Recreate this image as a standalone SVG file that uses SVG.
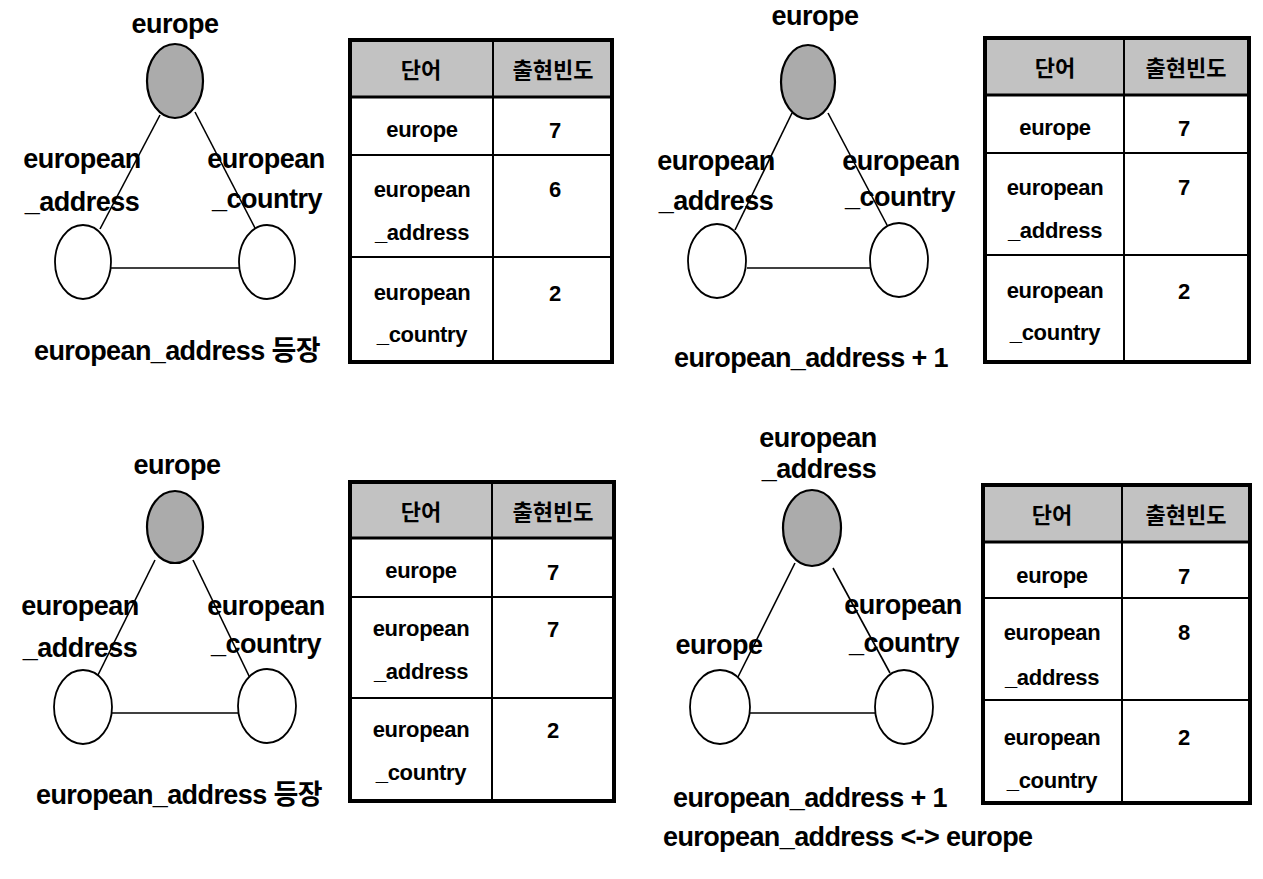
<svg xmlns="http://www.w3.org/2000/svg" width="1263" height="879" viewBox="0 0 1263 879">
<style>
text{font-family:"Liberation Sans","Noto Sans CJK KR",Arial,sans-serif;font-weight:bold;fill:#000;text-anchor:middle}
.lbl{font-size:27px;letter-spacing:-0.5px}
.cap{font-size:27px;letter-spacing:-0.6px}
.cell{font-size:22px;letter-spacing:-0.3px}
.num{font-size:22px}
.hdr{font-size:22px;font-family:"Noto Sans CJK KR",sans-serif}
.top{fill:#ababab;stroke:#000;stroke-width:2.2}
.node{fill:#fff;stroke:#000;stroke-width:1.8}
.edge{stroke:#000;stroke-width:1.6;fill:none}
.tb{fill:#fff;stroke:#000;stroke-width:4}
.hd{fill:#c2c2c2;stroke:none}
.gl{stroke:#000;stroke-width:2}
.gh{stroke:#000;stroke-width:3}
</style>
<rect width="1263" height="879" fill="#fff"/>

<g id="connectors">
<line class="edge" x1="160" y1="115" x2="100" y2="229"/>
<line class="edge" x1="195" y1="112" x2="255" y2="228"/>
<line class="edge" x1="111" y1="268" x2="239" y2="268"/>
<line class="edge" x1="792" y1="113" x2="735" y2="230"/>
<line class="edge" x1="828" y1="113" x2="887" y2="225"/>
<line class="edge" x1="747" y1="268" x2="871" y2="268"/>
<line class="edge" x1="155" y1="560" x2="97" y2="677"/>
<line class="edge" x1="193" y1="560" x2="250" y2="678"/>
<line class="edge" x1="111" y1="713" x2="239" y2="713"/>
<line class="edge" x1="795" y1="563" x2="738" y2="677"/>
<line class="edge" x1="833" y1="568" x2="890" y2="673"/>
<line class="edge" x1="750" y1="713" x2="876" y2="713"/>
</g>

<!-- Panel 1 top-left -->
<g id="p1-top"><ellipse class="top" cx="175" cy="81" rx="28" ry="37"/><text class="lbl" x="175" y="33">europe</text></g>
<g id="p1-left"><ellipse class="node" cx="83" cy="262" rx="28" ry="37"/></g>
<g id="p1-right"><ellipse class="node" cx="267" cy="262" rx="28" ry="37"/></g>
<g id="p1-labels">
<text class="lbl" x="82" y="168">european</text>
<text class="lbl" x="82" y="211">_address</text>
<text class="lbl" x="266" y="168">european</text>
<text class="lbl" x="267" y="208">_country</text>
<text class="cap" x="177" y="360">european_address 등장</text>
</g>
<g id="t1">
<rect class="tb" x="350" y="40" width="262" height="322"/>
<rect class="hd" x="352" y="42" width="258" height="55"/>
<line class="gh" x1="350" y1="97" x2="612" y2="97"/>
<line class="gl" x1="350" y1="155" x2="612" y2="155"/>
<line class="gl" x1="350" y1="257" x2="612" y2="257"/>
<line class="gl" x1="493" y1="40" x2="493" y2="362"/>
<text class="hdr" x="421" y="78">단어</text>
<text class="hdr" x="553" y="78">출현빈도</text>
<text class="cell" x="422" y="137">europe</text>
<text class="cell" x="422" y="197">european</text>
<text class="cell" x="422" y="240">_address</text>
<text class="cell" x="422" y="300">european</text>
<text class="cell" x="422" y="342">_country</text>
<text class="num" x="555" y="138">7</text>
<text class="num" x="555" y="197">6</text>
<text class="num" x="555" y="301">2</text>
</g>

<!-- Panel 2 top-right -->
<g id="p2-top"><ellipse class="top" cx="808" cy="82" rx="27" ry="37"/><text class="lbl" x="815" y="25">europe</text></g>
<g id="p2-left"><ellipse class="node" cx="717" cy="261" rx="29" ry="37"/></g>
<g id="p2-right"><ellipse class="node" cx="899" cy="260" rx="29" ry="37"/></g>
<g id="p2-labels">
<text class="lbl" x="716" y="170">european</text>
<text class="lbl" x="716" y="210">_address</text>
<text class="lbl" x="901" y="170">european</text>
<text class="lbl" x="900" y="206">_country</text>
<text class="cap" x="811" y="367">european_address + 1</text>
</g>
<g id="t2">
<rect class="tb" x="985" y="38" width="264" height="324"/>
<rect class="hd" x="987" y="40" width="260" height="55"/>
<line class="gh" x1="985" y1="95" x2="1249" y2="95"/>
<line class="gl" x1="985" y1="153" x2="1249" y2="153"/>
<line class="gl" x1="985" y1="255" x2="1249" y2="255"/>
<line class="gl" x1="1124" y1="38" x2="1124" y2="362"/>
<text class="hdr" x="1055" y="76">단어</text>
<text class="hdr" x="1186" y="76">출현빈도</text>
<text class="cell" x="1055" y="135">europe</text>
<text class="cell" x="1055" y="195">european</text>
<text class="cell" x="1055" y="238">_address</text>
<text class="cell" x="1055" y="298">european</text>
<text class="cell" x="1055" y="340">_country</text>
<text class="num" x="1184" y="136">7</text>
<text class="num" x="1184" y="195">7</text>
<text class="num" x="1184" y="299">2</text>
</g>

<!-- Panel 3 bottom-left -->
<g id="p3-top"><ellipse class="top" cx="175" cy="527" rx="28" ry="36"/><text class="lbl" x="177" y="474">europe</text></g>
<g id="p3-left"><ellipse class="node" cx="83" cy="707" rx="29" ry="37"/></g>
<g id="p3-right"><ellipse class="node" cx="267" cy="706" rx="29" ry="37"/></g>
<g id="p3-labels">
<text class="lbl" x="80" y="615">european</text>
<text class="lbl" x="80" y="657">_address</text>
<text class="lbl" x="266" y="615">european</text>
<text class="lbl" x="266" y="653">_country</text>
<text class="cap" x="179" y="804">european_address 등장</text>
</g>
<g id="t3">
<rect class="tb" x="350" y="482" width="264" height="319"/>
<rect class="hd" x="352" y="484" width="260" height="54"/>
<line class="gh" x1="350" y1="538" x2="614" y2="538"/>
<line class="gl" x1="350" y1="597" x2="614" y2="597"/>
<line class="gl" x1="350" y1="698" x2="614" y2="698"/>
<line class="gl" x1="492" y1="482" x2="492" y2="801"/>
<text class="hdr" x="421" y="520">단어</text>
<text class="hdr" x="553" y="520">출현빈도</text>
<text class="cell" x="421" y="578">europe</text>
<text class="cell" x="421" y="636">european</text>
<text class="cell" x="421" y="679">_address</text>
<text class="cell" x="421" y="737">european</text>
<text class="cell" x="421" y="780">_country</text>
<text class="num" x="553" y="580">7</text>
<text class="num" x="553" y="637">7</text>
<text class="num" x="553" y="738">2</text>
</g>

<!-- Panel 4 bottom-right -->
<g id="p4-top"><ellipse class="top" cx="812" cy="528" rx="29" ry="38"/>
<text class="lbl" x="818" y="447">european</text>
<text class="lbl" x="819" y="478">_address</text></g>
<g id="p4-left"><ellipse class="node" cx="720" cy="707" rx="30" ry="37"/></g>
<g id="p4-right"><ellipse class="node" cx="904" cy="707" rx="29" ry="37"/></g>
<g id="p4-labels">
<text class="lbl" x="719" y="654">europe</text>
<text class="lbl" x="903" y="614">european</text>
<text class="lbl" x="904" y="652">_country</text>
<text class="cap" x="810" y="807">european_address + 1</text>
<text class="cap" x="663" y="846" style="text-anchor:start">european_address &lt;-&gt; europe</text>
</g>
<g id="t4">
<rect class="tb" x="983" y="485" width="267" height="318"/>
<rect class="hd" x="985" y="487" width="263" height="55"/>
<line class="gh" x1="983" y1="542" x2="1250" y2="542"/>
<line class="gl" x1="983" y1="598" x2="1250" y2="598"/>
<line class="gl" x1="983" y1="700" x2="1250" y2="700"/>
<line class="gl" x1="1122" y1="485" x2="1122" y2="803"/>
<text class="hdr" x="1052" y="523">단어</text>
<text class="hdr" x="1186" y="523">출현빈도</text>
<text class="cell" x="1052" y="583">europe</text>
<text class="cell" x="1052" y="640">european</text>
<text class="cell" x="1052" y="685">_address</text>
<text class="cell" x="1052" y="745">european</text>
<text class="cell" x="1052" y="788">_country</text>
<text class="num" x="1184" y="584">7</text>
<text class="num" x="1184" y="640">8</text>
<text class="num" x="1184" y="745">2</text>
</g>
</svg>
